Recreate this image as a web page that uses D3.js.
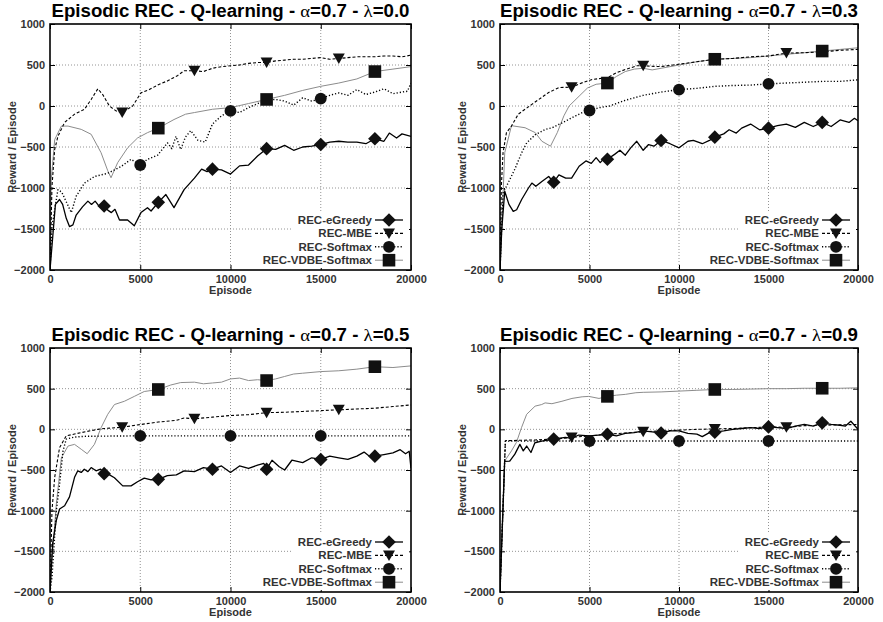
<!DOCTYPE html>
<html>
<head>
<meta charset="utf-8">
<script src="https://cdn.jsdelivr.net/npm/d3@7"></script>
<style>
  body { margin: 0; background: #fff; }
  svg { display: block; }
  text { font-family: "Liberation Sans", Arial, sans-serif; font-weight: bold; }
</style>
</head>
<body>
<svg id="chart" width="883" height="622"></svg>
<script>
// axis ticks and names
var episodeTicks = [0, 5000, 10000, 15000, 20000];
var rewardTicks = [1000, 500, 0, -500, -1000, -1500, -2000];
var seriesNames = ["REC-eGreedy", "REC-MBE", "REC-Softmax", "REC-VDBE-Softmax"];
var lambdas = ["0.0", "0.3", "0.5", "0.9"];

// episodes where the markers sit, per series
var greedyMarks = [3000, 6000, 9000, 12000, 15000, 18000];
var mbeMarks = [4000, 8000, 12000, 16000];
var softmaxMarks = [5000, 10000, 15000];
var vdbeMarks = [6000, 12000, 18000];

// lambda = 0.0  ([episode, reward])
var greedy00 = [[0,-2000],[150,-1600],[300,-1200],[530,-1140],[700,-1200],[900,-1370],[1080,-1470],[1270,-1450],[1450,-1330],[1800,-1230],[2100,-1160],[2300,-1200],[2500,-1160],[2750,-1230],[3000,-1220],[3200,-1270],[3400,-1300],[3600,-1260],[3850,-1390],[4300,-1390],[4670,-1460],[5040,-1300],[5400,-1240],[5600,-1280],[6000,-1175],[6420,-1080],[6870,-1240],[7430,-1020],[8000,-880],[8400,-770],[8700,-800],[9000,-770],[9500,-780],[10000,-830],[10500,-730],[11000,-720],[11500,-610],[12000,-520],[12500,-530],[13000,-480],[13500,-540],[14000,-500],[14500,-490],[15000,-470],[15500,-440],[16000,-430],[16500,-440],[17000,-440],[17500,-460],[18000,-400],[18500,-430],[18800,-330],[19200,-390],[19500,-340],[20000,-370]];
var mbe00 = [[0,-2000],[110,-980],[260,-530],[440,-370],[810,-200],[1360,-100],[1910,-40],[2280,80],[2650,210],[2920,140],[3290,0],[3660,-60],[4000,-80],[4580,0],[5040,160],[5500,200],[6000,260],[6500,305],[7060,370],[7430,430],[8000,430],[8500,420],[9000,460],[9500,480],[10000,490],[10500,500],[11000,520],[11500,530],[12000,530],[12500,550],[13000,560],[13500,570],[14000,570],[14500,580],[15000,590],[15500,570],[16000,580],[16500,590],[17000,600],[17500,600],[18000,600],[18500,610],[19000,610],[19500,600],[20000,620]];
var softmax00 = [[0,-2000],[110,-1470],[440,-1020],[650,-1050],[1180,-1300],[1450,-1100],[1910,-940],[2460,-860],[3200,-820],[3930,-740],[4490,-650],[5000,-720],[5400,-650],[5960,-600],[6510,-450],[6750,-520],[6980,-370],[7240,-530],[7500,-380],[7800,-300],[8200,-420],[8600,-440],[9000,-220],[9500,-120],[10000,-60],[10500,-80],[11000,-20],[11500,30],[12000,70],[12500,80],[13000,60],[13500,10],[14000,100],[14500,60],[15000,90],[15500,130],[16000,160],[16500,130],[17000,200],[17500,140],[18000,170],[18500,210],[19000,150],[19500,170],[19800,180],[20000,280]];
var vdbe00 = [[0,-2000],[70,-900],[260,-410],[630,-245],[1000,-245],[1730,-285],[2280,-345],[2830,-570],[3200,-790],[3380,-875],[3750,-690],[4300,-510],[4850,-390],[5400,-325],[6000,-270],[6870,-165],[7510,-100],[8000,-80],[9000,-40],[10000,-20],[11000,30],[12000,80],[13000,130],[14000,190],[15000,240],[16000,280],[17000,330],[18000,420],[19000,450],[20000,480]];

// lambda = 0.3
var greedy03 = [[0,-2000],[100,-1500],[265,-1040],[500,-1200],[740,-1285],[930,-1265],[1210,-1140],[1590,-1000],[1780,-940],[2000,-980],[2340,-920],[2720,-860],[3000,-930],[3290,-840],[3670,-880],[4000,-880],[4420,-735],[4800,-670],[5100,-700],[5370,-630],[5600,-690],[5930,-610],[6000,-650],[6400,-590],[6700,-540],[7000,-600],[7300,-510],[7640,-430],[8000,-540],[8300,-470],[8600,-490],[9000,-420],[9500,-460],[10000,-510],[10500,-430],[10800,-420],[11300,-460],[11700,-420],[12000,-380],[12500,-340],[12800,-290],[13200,-330],[13500,-270],[14000,-220],[14500,-290],[15000,-270],[15500,-240],[16000,-220],[16500,-260],[17000,-200],[17500,-250],[18000,-200],[18500,-250],[19000,-170],[19500,-200],[19800,-150],[20000,-180]];
var mbe03 = [[0,-2000],[75,-980],[170,-570],[360,-325],[640,-245],[1020,-100],[1780,20],[2720,165],[3290,225],[4000,230],[4610,285],[5180,325],[6000,345],[6500,405],[7070,450],[7640,490],[8000,490],[9000,480],[10000,510],[11000,540],[12000,570],[13000,580],[14000,600],[15000,610],[16000,645],[17000,650],[18000,660],[19000,680],[20000,690]];
var softmax03 = [[0,-2000],[170,-1060],[450,-940],[830,-770],[1210,-570],[1490,-450],[1970,-350],[2530,-285],[2910,-265],[3480,-205],[4040,-140],[4610,-80],[5000,-55],[5560,-20],[6120,0],[7000,70],[8000,130],[9000,170],[10000,200],[11000,215],[12000,240],[13000,250],[14000,255],[15000,270],[16000,280],[17000,290],[18000,300],[19000,300],[20000,320]];
var vdbe03 = [[0,-2000],[265,-570],[640,-240],[1400,-265],[1970,-325],[2340,-430],[2820,-490],[3200,-325],[3570,-120],[3860,0],[4420,120],[4890,220],[5370,265],[6000,280],[6500,360],[7000,420],[7500,450],[8000,460],[8500,440],[9000,460],[10000,500],[11000,540],[12000,570],[13000,580],[14000,590],[15000,610],[16000,630],[17000,650],[18000,670],[19000,690],[20000,710]];

// lambda = 0.5
var greedy05 = [[0,-2000],[150,-1400],[350,-1120],[530,-980],[810,-940],[1080,-830],[1360,-590],[1540,-510],[1730,-530],[1900,-490],[2100,-520],[2280,-470],[2550,-510],[2800,-490],[3000,-545],[3300,-560],[3570,-595],[4030,-695],[4490,-695],[4850,-645],[5220,-600],[5600,-620],[6000,-615],[6500,-570],[7000,-560],[7430,-510],[8000,-520],[8500,-470],[9000,-490],[9500,-450],[10000,-530],[10500,-450],[11000,-480],[11500,-440],[11850,-420],[12000,-490],[12300,-380],[12700,-460],[13000,-500],[13400,-380],[14000,-410],[14500,-350],[15000,-370],[15500,-330],[16000,-350],[16500,-370],[17000,-330],[17400,-280],[17800,-350],[18000,-330],[18500,-310],[19000,-290],[19400,-250],[19700,-300],[19900,-270],[20000,-480]];
var mbe05 = [[0,-2000],[110,-1000],[260,-590],[530,-225],[900,-80],[1730,-40],[2650,0],[3000,10],[4000,25],[5040,60],[6000,90],[7000,110],[7430,140],[8000,130],[9000,150],[10000,170],[11000,180],[12000,205],[13000,210],[14000,220],[15000,230],[16000,240],[17000,250],[18000,260],[19000,280],[20000,300]];
var softmax05 = [[0,-2000],[110,-1820],[350,-1000],[530,-675],[720,-265],[900,-120],[1360,-95],[2000,-85],[5000,-80],[10000,-80],[15000,-80],[20000,-80]];
var vdbe05 = [[0,-2000],[110,-1610],[350,-920],[630,-350],[1000,-205],[1360,-185],[1730,-245],[2060,-300],[2460,-185],[2830,20],[3200,185],[3570,305],[4120,345],[4670,405],[5220,465],[6000,490],[6690,545],[7240,575],[8000,580],[8500,560],[9000,570],[9500,580],[10000,620],[10500,630],[11000,600],[11500,610],[12000,600],[12500,620],[13000,650],[13500,680],[14000,690],[15000,710],[16000,720],[17000,740],[18000,770],[19000,760],[20000,780]];

// lambda = 0.9
var greedy09 = [[0,-2000],[260,-395],[545,-390],[830,-305],[1110,-185],[1300,-265],[1490,-205],[1730,-285],[1950,-165],[2330,-145],[3000,-120],[3650,-100],[4000,-110],[4400,-70],[5000,-80],[5500,-70],[6000,-60],[6500,-80],[7000,-50],[7500,-40],[8000,-20],[8500,-30],[9000,-45],[9500,-20],[10000,-20],[10500,-50],[11000,-60],[11300,-90],[11700,-40],[12000,-35],[12500,-20],[13000,0],[13500,10],[14000,20],[14500,10],[15000,30],[15500,20],[16000,10],[16500,40],[17000,60],[17500,40],[18000,80],[18500,60],[19000,50],[19300,40],[19600,100],[20000,0]];
var mbe09 = [[0,-2000],[300,-140],[1000,-135],[2000,-130],[3000,-120],[4000,-100],[5000,-80],[6000,-60],[7000,-45],[8000,-30],[9000,-20],[10000,-10],[11000,0],[12000,5],[13000,10],[14000,20],[15000,30],[16000,25],[17000,45],[18000,50],[19000,55],[20000,60]];
var softmax09 = [[0,-2000],[300,-145],[5000,-143],[10000,-143],[15000,-143],[20000,-143]];
var vdbe09 = [[0,-2000],[260,-390],[640,-265],[920,-160],[1200,20],[1490,185],[1960,285],[2330,305],[2520,325],[2900,315],[3460,345],[4020,380],[4590,400],[4960,405],[5530,380],[6000,405],[6500,420],[7000,430],[7590,450],[8000,455],[9000,460],[10000,470],[11000,480],[12000,490],[13000,490],[14000,495],[15000,500],[16000,500],[17000,505],[18000,505],[19000,505],[20000,510]];

var svg = d3.select("#chart");

var panels = [
    {lambda: lambdas[0], series: [greedy00, mbe00, softmax00, vdbe00], left: 50, right: 411, top: 24, bottom: 270},
    {lambda: lambdas[1], series: [greedy03, mbe03, softmax03, vdbe03], left: 500, right: 858, top: 24, bottom: 270},
    {lambda: lambdas[2], series: [greedy05, mbe05, softmax05, vdbe05], left: 50, right: 411, top: 348, bottom: 592},
    {lambda: lambdas[3], series: [greedy09, mbe09, softmax09, vdbe09], left: 500, right: 858, top: 348, bottom: 592}
];

var styles = [
    {stroke: "#000", width: 1.3, dash: null, marker: "diamond", marks: greedyMarks},
    {stroke: "#000", width: 1.1, dash: "3,2", marker: "triangle", marks: mbeMarks},
    {stroke: "#000", width: 1.4, dash: "1.2,2", marker: "circle", marks: softmaxMarks},
    {stroke: "#8c8c8c", width: 1, dash: null, marker: "square", marks: vdbeMarks}
];

var markerPaths = {
    diamond: "M0,-6.8L6.8,0L0,6.8L-6.8,0Z",
    triangle: "M-6,-5L6,-5L0,5.5Z",
    circle: d3.symbol(d3.symbolCircle, 110)(),
    square: "M-6.3,-6.3H6.3V6.3H-6.3Z"
};

panels.forEach(function (p, i) {
    var g = svg.append("g");
    var x = d3.scaleLinear().domain([0, 20000]).range([p.left, p.right]);
    var y = d3.scaleLinear().domain([-2000, 1000]).range([p.bottom, p.top]);

    // dotted grid
    g.selectAll(".vg").data(episodeTicks.slice(1, -1)).enter().append("line")
        .attr("x1", d => x(d)).attr("x2", d => x(d))
        .attr("y1", p.top).attr("y2", p.bottom)
        .attr("stroke", "#888").attr("stroke-width", 0.9).attr("stroke-dasharray", "1,2");
    g.selectAll(".hg").data(rewardTicks.slice(1, -1)).enter().append("line")
        .attr("x1", p.left).attr("x2", p.right)
        .attr("y1", d => y(d)).attr("y2", d => y(d))
        .attr("stroke", "#888").attr("stroke-width", 0.9).attr("stroke-dasharray", "1,2");

    // axes, ticks pointing inwards
    var bottomAxis = g.append("g").attr("transform", "translate(0," + p.bottom + ")")
        .call(d3.axisBottom(x).tickValues(episodeTicks).tickSize(-5).tickPadding(5).tickFormat(d3.format("d")));
    var leftAxis = g.append("g").attr("transform", "translate(" + p.left + ",0)")
        .call(d3.axisLeft(y).tickValues(rewardTicks).tickSize(-5).tickPadding(5).tickFormat(d3.format("d")));
    g.append("g").attr("transform", "translate(0," + p.top + ")")
        .call(d3.axisTop(x).tickValues(episodeTicks).tickSize(-5).tickFormat(""));
    g.append("g").attr("transform", "translate(" + p.right + ",0)")
        .call(d3.axisRight(y).tickValues(rewardTicks).tickSize(-5).tickFormat(""));
    g.selectAll(".domain").remove();
    g.selectAll(".tick line").attr("stroke", "#000");
    [bottomAxis, leftAxis].forEach(function (a) {
        a.selectAll("text")
            .attr("font-family", "'Liberation Sans', Arial, sans-serif")
            .attr("font-weight", "bold").attr("font-size", 11).attr("fill", "#333");
    });

    // curves
    var clipId = "clip" + i;
    g.append("clipPath").attr("id", clipId).append("rect")
        .attr("x", p.left).attr("y", p.top)
        .attr("width", p.right - p.left).attr("height", p.bottom - p.top);
    var line = d3.line().x(d => x(d[0])).y(d => y(d[1]));
    var plot = g.append("g").attr("clip-path", "url(#" + clipId + ")");
    [3, 2, 1, 0].forEach(function (s) {
        var st = styles[s];
        plot.append("path").datum(p.series[s])
            .attr("d", line).attr("fill", "none")
            .attr("stroke", st.stroke).attr("stroke-width", st.width)
            .attr("stroke-dasharray", st.dash)
            .attr("stroke-linejoin", "round");
    });
    [3, 2, 1, 0].forEach(function (s) {
        var st = styles[s];
        var pts = p.series[s].filter(d => st.marks.indexOf(d[0]) >= 0);
        plot.selectAll(null).data(pts).enter().append("path")
            .attr("d", markerPaths[st.marker])
            .attr("transform", d => "translate(" + x(d[0]) + "," + y(d[1]) + ")")
            .attr("fill", "#111");
    });

    // frame
    g.append("rect").attr("x", p.left).attr("y", p.top)
        .attr("width", p.right - p.left).attr("height", p.bottom - p.top)
        .attr("fill", "none").attr("stroke", "#000").attr("stroke-width", 1.6);

    // legend
    var lg = g.append("g");
    lg.append("rect").attr("x", p.right - 118).attr("y", p.bottom - 58)
        .attr("width", 116).attr("height", 56).attr("fill", "#fff");
    seriesNames.forEach(function (name, s) {
        var st = styles[s];
        var ly = p.bottom - 50 + s * 13.4;
        lg.append("text").attr("x", p.right - 39).attr("y", ly + 4)
            .attr("text-anchor", "end").attr("font-size", 11.5).attr("fill", "#333")
            .text(name);
        lg.append("line").attr("x1", p.right - 36).attr("x2", p.right - 8)
            .attr("y1", ly).attr("y2", ly)
            .attr("stroke", st.stroke).attr("stroke-width", st.width)
            .attr("stroke-dasharray", st.dash);
        lg.append("path").attr("d", markerPaths[st.marker])
            .attr("transform", "translate(" + (p.right - 22) + "," + ly + ")")
            .attr("fill", "#111");
    });

    // titles
    var cx = (p.left + p.right) / 2;
    var title = g.append("text").attr("x", cx).attr("y", p.top - 7)
        .attr("text-anchor", "middle").attr("font-size", 17.5).attr("fill", "#000")
        .attr("textLength", 358).attr("lengthAdjust", "spacingAndGlyphs");
    title.append("tspan").text("Episodic REC - Q-learning - ");
    title.append("tspan").attr("font-family", "'Liberation Serif', serif").attr("font-weight", "normal").text("\u03b1");
    title.append("tspan").text("=0.7 - ");
    title.append("tspan").attr("font-family", "'Liberation Serif', serif").attr("font-weight", "normal").text("\u03bb");
    title.append("tspan").text("=" + p.lambda);

    g.append("text").attr("x", cx).attr("y", p.bottom + 24)
        .attr("text-anchor", "middle").attr("font-size", 11).attr("fill", "#333")
        .text("Episode");
    g.append("text")
        .attr("transform", "translate(" + (p.left - 34) + "," + ((p.top + p.bottom) / 2) + ") rotate(-90)")
        .attr("text-anchor", "middle").attr("font-size", 11).attr("fill", "#333")
        .text("Reward / Episode");
});
</script>
</body>
</html>
